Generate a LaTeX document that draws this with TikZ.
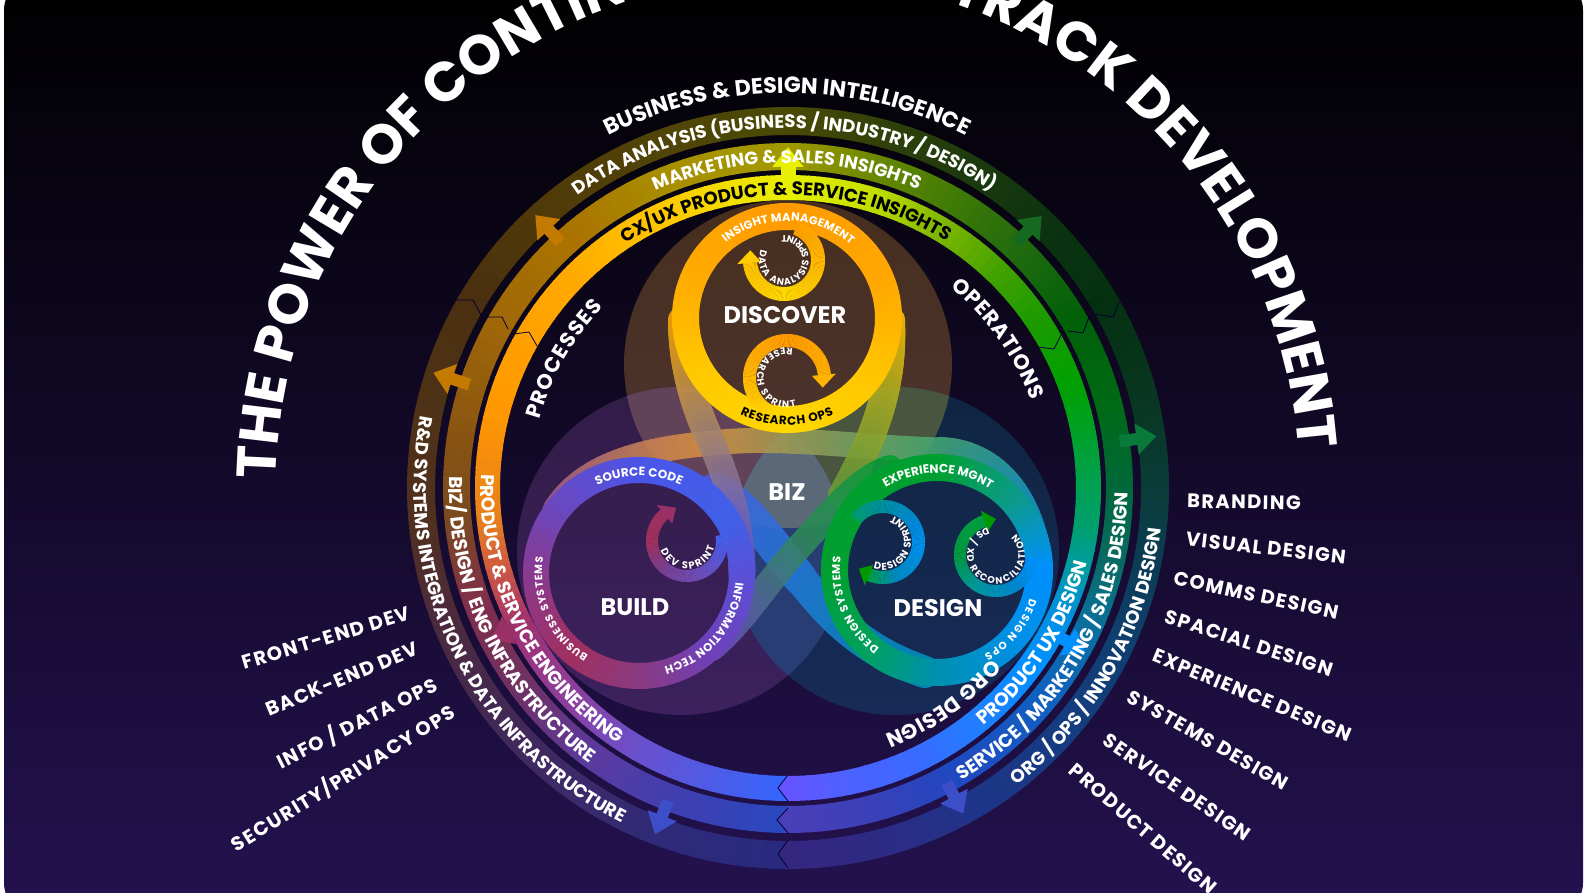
\documentclass[tikz,border=0pt]{standalone}
\usepackage{fontspec}
\setmainfont{Poppins}
\usetikzlibrary{arrows.meta,decorations.text}

\def\noneword{none}
\newlength\arcwd
\newcommand{\arcfont}[1]{\fontsize{#1}{#1}\selectfont\bfseries}

% band round a centre, colour stops given with falling angles
\newcommand{\gradband}[4]{%
  \foreach \ang/\hex [remember=\ang as \angp (initially none),remember=\hex as \hexp (initially 000000)] in {#4} {%
    \ifx\angp\noneword\else
      \definecolor{bandA}{HTML}{\hexp}\definecolor{bandB}{HTML}{\hex}%
      \pgfmathtruncatemacro\nseg{ceil(abs(\angp-\ang)/2)}%
      \foreach \k in {1,...,\nseg} {%
        \pgfmathsetmacro\aS{\angp+(\ang-\angp)*(\k-1)/\nseg}%
        \pgfmathsetmacro\aE{\angp+(\ang-\angp)*\k/\nseg-.3}%
        \pgfmathsetmacro\mixp{100*(\k-.5)/\nseg}%
        \fill[fill=bandB!\mixp!bandA] ([shift={(\aS:#2)}]#1) arc[start angle=\aS,end angle=\aE,radius=#2]
          -- ([shift={(\aE:#3)}]#1) arc[start angle=\aE,end angle=\aS,radius=#3] -- cycle;
      }%
    \fi}}

% head at the end of a small spiral
\newcommand{\spiralhead}[6]{%
  \fill[fill=#6] ([shift={(#2:#3-#4)}]#1) -- ([shift={(#2:#3+#4)}]#1) -- ([shift={(#2-#5:#3)}]#1) -- cycle;}

% piece of ribbon: four control points, width, two colours
\newcommand{\ribbon}[7]{%
  \definecolor{ribA}{HTML}{#6}\definecolor{ribB}{HTML}{#7}%
  \foreach \k in {1,...,30} {%
    \pgfmathsetmacro\tA{(\k-1)/30}\pgfmathsetmacro\tB{\k/30}%
    \pgfmathsetmacro\mixp{100*(\k-.5)/30}%
    \path (#1) .. controls (#2) and (#3) .. (#4) coordinate[pos=\tA] (qa) coordinate[pos=\tB] (qb);
    \draw[line width=#5pt,line cap=round,draw=ribB!\mixp!ribA] (qa) -- (qb);
  }}

% long text on an arc: font size chosen so that the text fills the arc
\newcommand{\arclabel}[7]{%
  \begingroup
  \begin{pgfinterruptpicture}\settowidth\arcwd{\arcfont{#5}#7}\global\arcwd=\arcwd\end{pgfinterruptpicture}%
  \pgfmathsetmacro\arcsize{min(1.15*#5,(abs(#4-#3)*pi/180*.99)*(#2/\arcwd)*#5)}%
  \path[decorate,decoration={text along path,text align={left},text={|\arcfont{\arcsize}\color{#6}|#7}}]
    ([shift={(#3:#2)}]#1) arc[start angle=#3,end angle=#4,radius=#2];%
  \endgroup}

% short text on an arc: fixed font size, letters spaced out
\newcommand{\looselabel}[7]{%
  \path[decorate,decoration={text along path,text align={fit to path},text={|\arcfont{#5}\color{#6}|#7}}]
    ([shift={(#3:#2)}]#1) arc[start angle=#3,end angle=#4,radius=#2];}

\definecolor{arrowyellow}{HTML}{E8F000}
\definecolor{arroworange}{HTML}{C47A00}
\definecolor{arrowgreen}{HTML}{156A20}
\definecolor{arrowteal}{HTML}{0A7A3A}
\definecolor{arrowsky}{HTML}{0090FF}
\definecolor{arrowblue}{HTML}{3D4FC8}
\definecolor{arrowberry}{HTML}{9A3068}

\begin{document}
\begin{tikzpicture}[x=1pt,y=1pt]
    \tikzstyle{sidelabel}=[text=white,font=\fontsize{19.5}{19.5}\selectfont\bfseries\addfontfeature{LetterSpace=7},inner sep=0pt]
    \tikzstyle{mainlabel}=[text=white,font=\fontsize{24}{24}\selectfont\bfseries,inner sep=0pt]
    \tikzstyle{ringarrow}=[line width=12pt,-{Triangle[length=20pt,width=30pt]}]
    \tikzstyle{seam}=[draw=black!80!blue,line width=.8pt]
    \tikzstyle{ribbonset}=[transparency group,opacity=.88]

    \useasboundingbox (0,0) rectangle (1589,893);
    \fill[white] (0,0) rectangle (1589,893);
    \shade[rounded corners=30pt,top color=black,bottom color={rgb,255:red,36;green,18;blue,80}] (4,-20) rectangle (1583,913);

    \coordinate (hub) at (788,405);
    \coordinate (discoverloop) at (787,575);
    \coordinate (buildloop) at (639,320);
    \coordinate (designloop) at (937,323);
    \coordinate (discovertop) at (784,633);
    \coordinate (discoverlow) at (787,515);
    \coordinate (buildspin) at (687,352);
    \coordinate (designspin) at (883,351);
    \coordinate (reconspin) at (996,338);

    % Draw the three rings
    \gradband{hub}{288}{313}{270/3366FF,240/6A50CC,225/8A40A0,207/A03070,195/D05A40,186/E8801C,165/FF9800,150/FFA000,135/FFAA00,115/FFC800,100/F0E000,90/E8F000,75/C8E000,60/80B800,45/40A000,35/1F9A00,20/00A000,5/00A040,-8/00A070,-15/009AA0,-25/0090E0,-35/0090FF,-50/1E80FF,-65/3A6AFF,-80/5060FF,-90/6655FF}
    \gradband{hub}{318}{345}{270/2A48C0,250/3F3FB0,235/5A3AA0,215/70305F,200/802E4A,185/7A4A20,170/8A5510,150/A06808,130/AA7400,110/A89000,90/A09A00,75/6A8800,60/3F7A05,45/1F6A10,30/006008,15/006A15,0/00683A,-12/086A60,-25/0A70A0,-40/1060C0,-60/2048C0,-75/3A40B8,-90/4A3FB8}
    \gradband{hub}{353}{381}{270/282A80,250/2F2A78,235/3C2A6A,215/452850,200/4D2A3C,185/50301F,170/4F3218,150/4A3010,130/503A08,110/504408,90/4A4A05,75/30400A,60/1C3A0E,45/0C3310,30/053010,15/083620,0/0A3C38,-12/0B3C55,-25/0F3F70,-40/153C80,-60/1F3488,-75/2C2A84,-90/362680}

    % Draw arrows from ring to ring
    \draw[ringarrow,draw=arrowyellow,line width=15pt] ([shift={(90:305)}]hub) -- ([shift={(90:341)}]hub);
    \draw[ringarrow,draw=arroworange] ([shift={(132.8:335)}]hub) -- ([shift={(132.8:372)}]hub);
    \draw[ringarrow,draw=arroworange] ([shift={(162:335)}]hub) -- ([shift={(162:373)}]hub);
    \draw[ringarrow,draw=arrowgreen] ([shift={(47:335)}]hub) -- ([shift={(47:372)}]hub);
    \draw[ringarrow,draw=arrowteal] ([shift={(8:335)}]hub) -- ([shift={(8:372)}]hub);
    \draw[ringarrow,draw=arrowsky] ([shift={(-28.8:305)}]hub) -- ([shift={(-28.8:339)}]hub);
    \draw[ringarrow,draw=arrowblue] ([shift={(-61.7:335)}]hub) -- ([shift={(-61.7:370)}]hub);
    \draw[ringarrow,draw=arrowblue] ([shift={(249:335)}]hub) -- ([shift={(249:371)}]hub);
    \draw[ringarrow,draw=arrowberry] ([shift={(207:305)}]hub) -- ([shift={(207:333)}]hub);

    % Notches where the colours meet
    \fill[fill={rgb,255:red,102;green,85;blue,255}] (788,118) -- (778,105) -- (788,92) -- cycle;
    \fill[fill={rgb,255:red,74;green,63;blue,184}] (788,85) -- (777,73) -- (788,60) -- cycle;
    \fill[fill={rgb,255:red,54;green,38;blue,128}] (788,53) -- (778,39) -- (788,25) -- cycle;
    \draw[seam] (788,118) -- (778,105) -- (788,92);
    \draw[seam] (788,85) -- (777,73) -- (788,60);
    \draw[seam] (788,53) -- (778,39) -- (788,25);
    \draw[seam] (455,593) -- (473,593) -- (481,578);
    \draw[seam] (487,576) -- (502,576) -- (508,564);
    \draw[seam] (514,559) -- (529,561) -- (537,547);
    \draw[seam] (1119,591) -- (1113,576) -- (1094,579);
    \draw[seam] (1089,576) -- (1083,560) -- (1068,562);
    \draw[seam] (1061,558) -- (1054,544) -- (1037,546);

    % Draw the three circles and their overlaps
    \fill[fill={rgb,255:red,255;green,176;blue,64},fill opacity=.25] (788,529) circle[radius=164];
    \fill[fill={rgb,255:red,190;green,110;blue,220},fill opacity=.2] (681,342) circle[radius=164];
    \fill[fill={rgb,255:red,13;green,128;blue,160},fill opacity=.25] (895,342) circle[radius=164];
    \begin{scope}
        \clip (788,529) circle[radius=164];
        \fill[fill={rgb,255:red,98;green,66;blue,88}] (681,342) circle[radius=164];
        \fill[fill={rgb,255:red,74;green,85;blue,64}] (895,342) circle[radius=164];
    \end{scope}
    \begin{scope}
        \clip (681,342) circle[radius=164];
        \fill[fill={rgb,255:red,40;green,61;blue,116}] (895,342) circle[radius=164];
        \clip (895,342) circle[radius=164];
        \fill[fill={rgb,255:red,90;green,104;blue,120}] (788,529) circle[radius=164];
    \end{scope}

    % Draw the ribbons that join the loops
    \begin{scope}[ribbonset]
        \ribbon{555,383}{580,423}{630,443}{713,450}{25}{9A5A90}{D89040}
        \ribbon{713,450}{780,458}{860,445}{940,443}{25}{D89040}{48A870}
        \ribbon{940,443}{1000,441}{1035,388}{1040,323}{26}{48A870}{0090E8}
    \end{scope}
    \begin{scope}[ribbonset]
        \ribbon{715,403}{745,388}{765,358}{800,315}{34}{4A5AE8}{2478D8}
        \ribbon{800,315}{830,278}{860,243}{925,221}{32}{2478D8}{0090C0}
    \end{scope}
    \begin{scope}[ribbonset]
        \ribbon{682,573}{682,533}{692,493}{708,458}{28}{FFAA00}{A88868}
        \ribbon{708,458}{724,423}{742,373}{742,318}{27}{A88868}{5E52D0}
    \end{scope}
    \begin{scope}[ribbonset]
        \ribbon{891,573}{893,523}{885,473}{842,398}{28}{FFC400}{6A9A38}
    \end{scope}
    \begin{scope}[ribbonset]
        \ribbon{890,425}{860,415}{835,385}{800,347}{26}{00A030}{2E8A58}
        \ribbon{800,347}{770,315}{745,273}{712,245}{26}{2E8A58}{6A50C0}
    \end{scope}

    % Draw the loops
    \gradband{discoverloop}{88}{115}{90/FF9A00,20/FFA800,-30/FFC400,-90/FFD800,-150/FFC800,-200/FFAC00,-270/FF9A00}
    \gradband{buildloop}{90}{116}{90/4A55E8,30/4060E8,0/5A50D8,-50/7040B8,-90/8A3A80,-130/A03060,-180/8A3A90,-220/6A48C0,-270/4A55E8}
    \gradband{designloop}{89}{116}{90/00A030,40/0C9A90,0/0090FF,-40/0090E8,-90/0090B0,-130/00A060,-180/00A030,-270/00A030}

    % Draw the small spirals
    \gradband{discovertop}{27}{41}{70/FF9E00,-90/FFD800,-175/FFC000}
    \spiralhead{discovertop}{-175}{35}{12}{21}{orange!40!yellow}
    \gradband{discoverlow}{31}{44}{255/FFD800,180/FFB800,90/FF9A00,5/FFB000}
    \spiralhead{discoverlow}{5}{37}{12}{20}{orange!60!yellow}
    \gradband{buildspin}{29}{41}{10/4060F0,-60/6A50C0,-130/7A4090,-180/A0305A,-230/A03060}
    \spiralhead{buildspin}{-230}{35}{12}{22}{arrowberry}
    \gradband{designspin}{29}{42}{140/009A70,90/0090A0,30/0088D8,-10/0090EE,-70/008CC0,-113/00A040}
    \spiralhead{designspin}{-113}{36}{11}{19}{green!60!black}
    \gradband{reconspin}{30}{42}{-5/0090FF,-60/0088D0,-120/0098A0,-180/009A40,-251/00A040}
    \spiralhead{reconspin}{-251}{36}{11}{19}{green!60!black}

    % Draw the ring labels
    \arclabel{hub}{512}{179}{2.5}{64}{white}{THE POWER OF CONTINUOUS DUAL TRACK DEVELOPMENT}
    \arclabel{hub}{395}{117}{62.7}{21}{white}{BUSINESS {\&} DESIGN INTELLIGENCE}
    \arclabel{hub}{360}{125.7}{54.8}{19.5}{white}{DATA ANALYSIS (BUSINESS / INDUSTRY / DESIGN)}
    \arclabel{hub}{325}{114}{65.9}{20}{white}{MARKETING {\&} SALES INSIGHTS}
    \arclabel{hub}{293}{123.6}{56.6}{19.5}{black}{CX/UX PRODUCT {\&} SERVICE INSIGHTS}
    \looselabel{hub}{258}{164.7}{135.6}{21}{white}{PROCESSES}
    \looselabel{hub}{258}{51}{19.7}{21}{white}{OPERATIONS}
    \looselabel{hub}{265}{-40}{-68.6}{21}{white}{ORG DESIGN}
    \arclabel{hub}{374}{168.9}{244.3}{19.5}{white}{R{\&}D SYSTEMS INTEGRATION {\&} DATA INFRASTRUCTURE}
    \arclabel{hub}{339}{178}{234.8}{19}{white}{BIZ/ DESIGN / ENG INFRASTRUCTURE}
    \arclabel{hub}{307}{177.4}{237}{19}{white}{PRODUCT {\&} SERVICE ENGINEERING}
    \arclabel{hub}{308}{-50.5}{-13.6}{20}{white}{PRODUCT UX DESIGN}
    \arclabel{hub}{340}{-59.3}{-.2}{20}{white}{SERVICE / MARKETING / SALES DESIGN}
    \arclabel{hub}{375}{-52.4}{-5.8}{19}{white}{ORG / OPS / INNOVATION DESIGN}

    % Draw the loop labels
    \looselabel{discoverloop}{97}{129}{49}{11.5}{white}{INSIGHT MANAGEMENT}
    \looselabel{discoverloop}{107}{244}{296}{12}{black}{RESEARCH OPS}
    \looselabel{buildloop}{97}{115.5}{64.5}{12}{white}{SOURCE CODE}
    \looselabel{buildloop}{97}{-5.5}{-75}{11.5}{white}{INFORMATION TECH}
    \looselabel{buildloop}{97}{238.5}{170.5}{10.5}{white}{BUSINESS SYSTEMS}
    \looselabel{designloop}{97}{122}{57.5}{12}{white}{EXPERIENCE MGNT}
    \looselabel{designloop}{97}{233.5}{172}{11}{white}{DESIGN SYSTEMS}
    \looselabel{designloop}{97}{-17}{-61}{10.5}{white}{DESIGN OPS}
    \looselabel{discovertop}{25}{156}{456}{9.5}{white}{DATA ANALYSIS SPRINT}
    \looselabel{discoverlow}{30}{79}{288}{9.5}{white}{RESEARCH SPRINT}
    \looselabel{buildspin}{28}{200}{348}{10}{white}{DEV SPRINT}
    \looselabel{designspin}{28}{250}{430}{10}{white}{DESIGN SPRINT}
    \looselabel{reconspin}{29}{107}{406.6}{9.5}{white}{DS / XD RECONCILIATION}

    % Draw the stage names
    \node [mainlabel] (discover) at (785,578) {DISCOVER};
    \node [mainlabel] (build) at (635,286) {BUILD};
    \node [mainlabel] (design) at (938,285) {DESIGN};
    \node [mainlabel] (biz) at (787,401) {BIZ};

    % Draw the lists at the sides
    \node [sidelabel,rotate=-1] (branding) at (1244,391) {BRANDING};
    \node [sidelabel,rotate=-6.5] (visual) at (1266,345) {VISUAL DESIGN};
    \node [sidelabel,rotate=-12] (comms) at (1256,298) {COMMS DESIGN};
    \node [sidelabel,rotate=-18] (spacial) at (1249,250) {SPACIAL DESIGN};
    \node [sidelabel,rotate=-22.5] (experience) at (1252,198) {EXPERIENCE DESIGN};
    \node [sidelabel,rotate=-29.6] (systems) at (1208,153) {SYSTEMS DESIGN};
    \node [sidelabel,rotate=-34.4] (service) at (1177,106) {SERVICE DESIGN};
    \node [sidelabel,rotate=-41] (productdes) at (1143,64) {PRODUCT DESIGN};
    \node [sidelabel,rotate=17] (frontend) at (326,255) {FRONT-END DEV};
    \node [sidelabel,rotate=22.6] (backend) at (342,214) {BACK-END DEV};
    \node [sidelabel,rotate=26.7] (infoops) at (357,170) {INFO / DATA OPS};
    \node [sidelabel,rotate=31.6] (security) at (343,115) {SECURITY/PRIVACY OPS};
\end{tikzpicture}
\end{document}
